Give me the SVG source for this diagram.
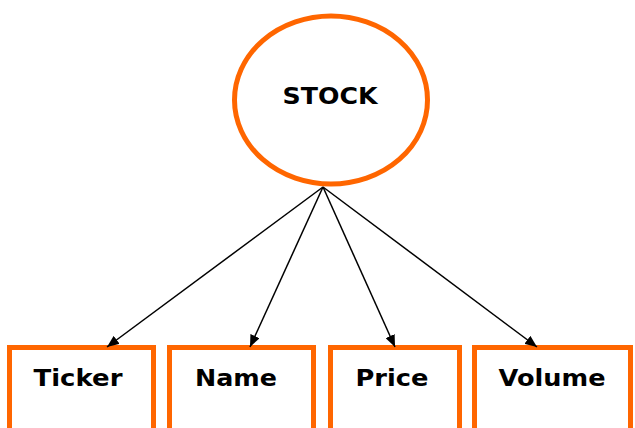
<svg xmlns="http://www.w3.org/2000/svg" width="635" height="428" viewBox="0 0 635 428">
<style>
.shape{fill:#fff;stroke:#ff6600;stroke-width:5}
.lbl{font-family:"DejaVu Sans",Verdana,sans-serif;font-weight:bold;font-size:23px;fill:#000;text-anchor:middle}
.edge{stroke:#000;stroke-width:1.5;fill:none;marker-end:url(#ah)}
</style>
<defs>
<marker id="ah" viewBox="0 0 12 10" refX="12" refY="5" markerWidth="12" markerHeight="10" markerUnits="userSpaceOnUse" orient="auto">
<path d="M0,0 L12,5 L0,10 Z" fill="#000"/>
</marker>
</defs>
<rect width="635" height="428" fill="#fff"/>
<g id="stock">
<ellipse class="shape" cx="331" cy="100" rx="96.5" ry="84"/>
<text class="lbl" x="330" y="104" textLength="95" lengthAdjust="spacingAndGlyphs">STOCK</text>
</g>
<g id="ticker">
<rect class="shape" x="9.5" y="347.5" width="144" height="100"/>
<text class="lbl" x="78" y="386" textLength="89" lengthAdjust="spacingAndGlyphs">Ticker</text>
</g>
<g id="name">
<rect class="shape" x="169.5" y="347.5" width="144" height="100"/>
<text class="lbl" x="236" y="386" textLength="82" lengthAdjust="spacingAndGlyphs">Name</text>
</g>
<g id="price">
<rect class="shape" x="330.5" y="347.5" width="129" height="100"/>
<text class="lbl" x="392" y="386" textLength="73" lengthAdjust="spacingAndGlyphs">Price</text>
</g>
<g id="volume">
<rect class="shape" x="474.5" y="347.5" width="156" height="100"/>
<text class="lbl" x="552" y="386" textLength="107" lengthAdjust="spacingAndGlyphs">Volume</text>
</g>
<g id="connectors">
<line class="edge" x1="323" y1="187" x2="107" y2="347"/>
<line class="edge" x1="323" y1="187" x2="250" y2="347"/>
<line class="edge" x1="323" y1="187" x2="395" y2="347"/>
<line class="edge" x1="323" y1="187" x2="537" y2="347"/>
</g>
</svg>
